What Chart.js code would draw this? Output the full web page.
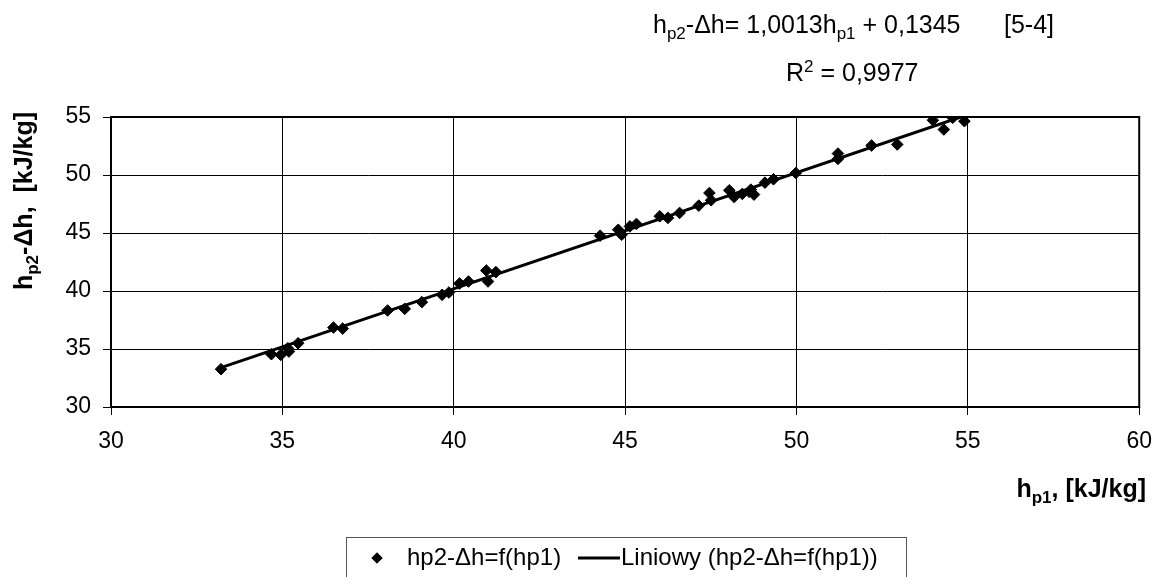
<!DOCTYPE html>
<html>
<head>
<meta charset="utf-8">
<script src="https://cdn.jsdelivr.net/npm/chart.js@4/dist/chart.umd.min.js"></script>
<style>
  html, body { margin: 0; padding: 0; background: #fff; }
  #wrap { width: 1165px; height: 577px; position: relative; }
</style>
</head>
<body>
<div id="wrap"><canvas id="enthalpy"></canvas></div>
<script>
// measured points: h_p1 vs h_p2 - dh [kJ/kg]
const hp1 = [33.21, 34.68, 34.95, 35.16, 35.19, 35.46, 36.49, 36.76, 38.07, 38.57,
    39.07, 39.66, 39.86, 40.17, 40.43, 40.95, 41.00, 41.23, 44.27, 44.80,
    44.90, 45.14, 45.33, 46.01, 46.25, 46.59, 47.15, 47.46, 47.51, 48.04,
    48.18, 48.42, 48.62, 48.67, 48.76, 49.08, 49.33, 49.98, 51.21, 51.21,
    52.19, 52.94, 53.98, 54.30, 54.56, 54.90];
const hp2dh = [33.26, 34.55, 34.49, 35.07, 34.78, 35.50, 36.85, 36.76, 38.32, 38.46,
    39.04, 39.67, 39.87, 40.65, 40.82, 41.77, 40.82, 41.63, 44.77, 45.28,
    44.85, 45.57, 45.78, 46.44, 46.30, 46.73, 47.36, 48.45, 47.82, 48.68,
    48.11, 48.37, 48.55, 48.74, 48.31, 49.34, 49.63, 50.17, 51.85, 51.39,
    52.54, 52.63, 54.72, 53.92, 54.93, 54.64];

// linear fit reported on the chart
const slope = 1.0013;
const intercept = 0.1345;
const rSquared = '0,9977';

const xTicks = [30, 35, 40, 45, 50, 55, 60];
const yTicks = [30, 35, 40, 45, 50, 55];

const FONT = '"Liberation Sans", Arial, sans-serif';

const points = hp1.map((x, i) => ({ x: x, y: hp2dh[i] }));
const xMin = Math.min(...hp1), xMax = Math.max(...hp1);
const trend = [xMin, xMax].map(x => ({ x: x, y: slope * x + intercept }));

// draws text made of [string, mode] pieces; mode 0 normal, 1 subscript, 2 superscript
function richText(ctx, parts, x, y, size, weight, align) {
    const small = Math.round(size * 0.68);
    let total = 0;
    parts.forEach(([t, m]) => {
        ctx.font = `${weight} ${m ? small : size}px ${FONT}`;
        total += ctx.measureText(t).width;
    });
    let cx = align === 'right' ? x - total : align === 'center' ? x - total / 2 : x;
    ctx.textAlign = 'left';
    ctx.textBaseline = 'alphabetic';
    parts.forEach(([t, m]) => {
        ctx.font = `${weight} ${m ? small : size}px ${FONT}`;
        const dy = m === 1 ? size * 0.22 : m === 2 ? -size * 0.38 : 0;
        ctx.fillText(t, cx, y + dy);
        cx += ctx.measureText(t).width;
    });
}

const decorations = {
    id: 'decorations',
    afterDraw(chart) {
        const ctx = chart.ctx;
        const a = chart.chartArea;
        ctx.save();
        ctx.fillStyle = '#000';

        // plot frame
        ctx.strokeStyle = '#000';
        ctx.lineWidth = 2;
        ctx.strokeRect(a.left, a.top, a.right - a.left, a.bottom - a.top);

        // regression equation
        richText(ctx, [['h', 0], ['p2', 1], ['-Δh= 1,0013h', 0], ['p1', 1], [' + 0,1345', 0]], 653, 33, 25, 'normal', 'left');
        richText(ctx, [['[5-4]', 0]], 1004, 33, 25, 'normal', 'left');
        richText(ctx, [['R', 0], ['2', 2], [' = ' + rSquared, 0]], 786, 81, 25, 'normal', 'left');

        // axis titles
        richText(ctx, [['h', 0], ['p1', 1], [', [kJ/kg]', 0]], 1146, 497, 25, 'bold', 'right');
        ctx.save();
        ctx.translate(32, 201);
        ctx.rotate(-Math.PI / 2);
        richText(ctx, [['h', 0], ['p2', 1], ['-Δh,  [kJ/kg]', 0]], 0, 0, 25, 'bold', 'center');
        ctx.restore();

        // legend box
        const ds = chart.data.datasets;
        ctx.strokeStyle = '#555';
        ctx.lineWidth = 1;
        ctx.strokeRect(346.5, 537.5, 560, 60);
        const ly = 558;
        Chart.helpers.drawPoint(ctx, { pointStyle: 'rectRot', radius: 5.5, borderWidth: 0 }, 377, ly);
        ctx.fill();
        ctx.font = `24px ${FONT}`;
        ctx.textBaseline = 'middle';
        ctx.textAlign = 'left';
        ctx.fillText(ds[0].label, 407, ly);
        ctx.lineWidth = 3;
        ctx.strokeStyle = '#000';
        ctx.beginPath();
        ctx.moveTo(578, ly);
        ctx.lineTo(620, ly);
        ctx.stroke();
        ctx.fillText(ds[1].label, 621, ly);
        ctx.restore();
    }
};

new Chart(document.getElementById('enthalpy'), {
    type: 'scatter',
    data: {
        datasets: [
            {
                label: 'hp2-Δh=f(hp1)',
                data: points,
                pointStyle: 'rectRot',
                pointRadius: 5.8,
                pointBackgroundColor: '#000',
                pointBorderColor: '#000',
                pointBorderWidth: 1,
                order: 1
            },
            {
                label: 'Liniowy (hp2-Δh=f(hp1))',
                type: 'line',
                data: trend,
                borderColor: '#000',
                borderWidth: 3,
                pointRadius: 0,
                fill: false,
                order: 0
            }
        ]
    },
    options: {
        responsive: true,
        maintainAspectRatio: false,
        animation: false,
        layout: { padding: { left: 0, top: 117, right: 19, bottom: 0 } },
        plugins: {
            legend: { display: false },
            tooltip: { enabled: false }
        },
        scales: {
            x: {
                type: 'linear',
                min: 30,
                max: 60,
                afterBuildTicks: scale => { scale.ticks = xTicks.map(v => ({ value: v })); },
                afterFit: scale => { scale.height = 170; },
                ticks: {
                    color: '#000',
                    padding: 13,
                    font: { family: FONT, size: 23 }
                },
                grid: { color: '#000', lineWidth: 1, tickLength: 8 },
                border: { color: '#000', width: 2 }
            },
            y: {
                type: 'linear',
                min: 30,
                max: 55,
                afterBuildTicks: scale => { scale.ticks = yTicks.map(v => ({ value: v })); },
                afterFit: scale => { scale.width = 111; },
                ticks: {
                    color: '#000',
                    padding: 12,
                    font: { family: FONT, size: 23 }
                },
                grid: { color: '#000', lineWidth: 1, tickLength: 8 },
                border: { color: '#000', width: 2 }
            }
        }
    },
    plugins: [decorations]
});
</script>
</body>
</html>
